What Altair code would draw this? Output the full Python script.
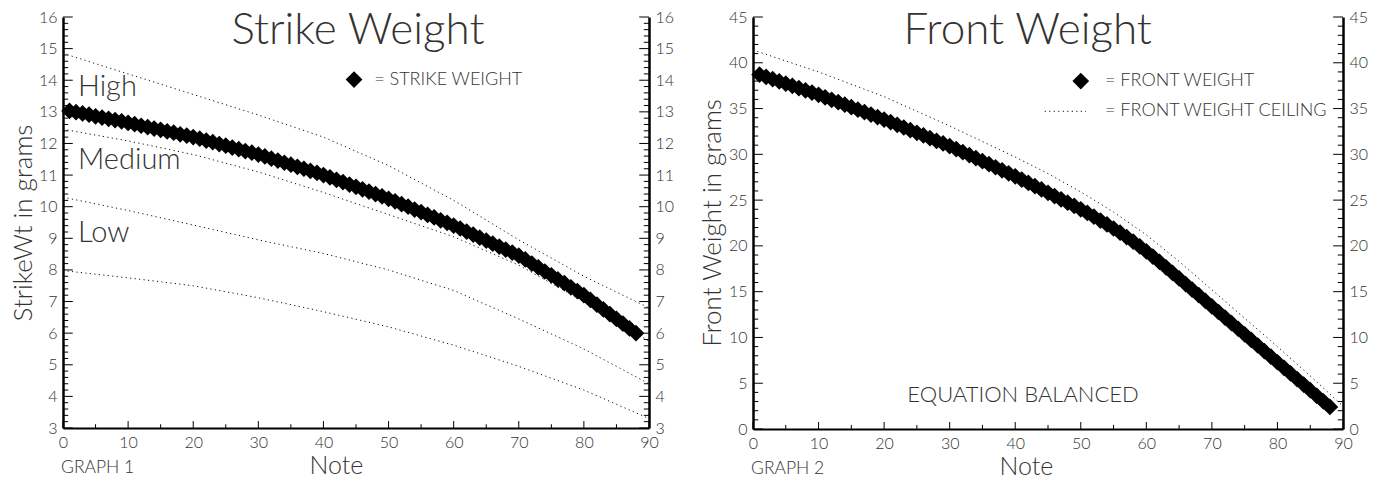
import altair as alt
import pandas as pd

FONT = "Lato"
INK = "#333333"

# ---------------- data ----------------
notes = list(range(1, 89))

strike_weight = [
    13.03, 12.99, 12.95, 12.91, 12.86, 12.82, 12.78, 12.74, 12.70, 12.65,
    12.61, 12.56, 12.52, 12.47, 12.43, 12.38, 12.34, 12.29, 12.25, 12.20,
    12.15, 12.09, 12.04, 11.98, 11.93, 11.87, 11.82, 11.76, 11.71, 11.65,
    11.59, 11.52, 11.46, 11.39, 11.33, 11.26, 11.20, 11.13, 11.07, 11.00,
    10.93, 10.85, 10.78, 10.70, 10.63, 10.55, 10.48, 10.40, 10.33, 10.25,
    10.17, 10.08, 10.00, 9.91, 9.83, 9.74, 9.66, 9.57, 9.49, 9.40,
    9.31, 9.21, 9.12, 9.02, 8.93, 8.83, 8.74, 8.64, 8.55, 8.45,
    8.33, 8.20, 8.08, 7.95, 7.83, 7.70, 7.58, 7.45, 7.33, 7.20,
    7.05, 6.90, 6.75, 6.60, 6.45, 6.30, 6.15, 6.00,
]

front_weight = [
    38.70, 38.46, 38.21, 37.97, 37.72, 37.48, 37.23, 36.99, 36.74, 36.50,
    36.23, 35.96, 35.69, 35.42, 35.15, 34.88, 34.61, 34.34, 34.07, 33.80,
    33.51, 33.22, 32.93, 32.64, 32.35, 32.06, 31.77, 31.48, 31.19, 30.90,
    30.57, 30.24, 29.91, 29.58, 29.25, 28.92, 28.59, 28.26, 27.93, 27.60,
    27.24, 26.88, 26.52, 26.16, 25.80, 25.44, 25.08, 24.72, 24.36, 24.00,
    23.60, 23.19, 22.77, 22.34, 21.90, 21.44, 20.96, 20.46, 19.94, 19.40,
    18.84, 18.26, 17.66, 17.05, 16.44, 15.83, 15.22, 14.61, 14.00, 13.39,
    12.78, 12.17, 11.56, 10.95, 10.34, 9.73, 9.12, 8.51, 7.90, 7.29,
    6.68, 6.07, 5.46, 4.85, 4.24, 3.63, 3.02, 2.41,
]

guide_notes = [0, 10, 20, 30, 40, 50, 60, 70, 80, 90]
strike_high_top = [14.85, 14.20, 13.55, 12.90, 12.20, 11.30, 10.20, 8.95, 7.80, 6.80]
strike_medium_top = [12.45, 12.08, 11.65, 11.10, 10.45, 9.75, 9.05, 8.15, 7.00, 5.75]
strike_low_top = [10.30, 9.88, 9.42, 8.95, 8.52, 8.00, 7.35, 6.45, 5.50, 4.40]
strike_low_bottom = [7.98, 7.75, 7.50, 7.12, 6.68, 6.20, 5.62, 4.95, 4.20, 3.30]

ceiling_notes = [0, 10, 20, 30, 40, 45, 50, 55, 60, 65, 70, 75, 80, 85, 90]
front_ceiling = [41.4, 39.0, 36.3, 33.1, 29.7, 27.9, 25.9, 23.7, 21.2, 18.3, 15.2, 12.1, 9.0, 5.8, 2.5]

x_major = [0, 10, 20, 30, 40, 50, 60, 70, 80, 90]
x_minor = [5, 15, 25, 35, 45, 55, 65, 75, 85]
strike_major = [3, 4, 5, 6, 7, 8, 9, 10, 11, 12, 13, 14, 15, 16]
strike_minor = [round(3 + i * 0.2, 1) for i in range(1, 65) if i % 5 != 0]
front_major = [0, 5, 10, 15, 20, 25, 30, 35, 40, 45]
front_minor = [i for i in range(1, 45) if i % 5 != 0]

band_labels = ["High", "Medium", "Low"]
band_label_x = [2.3, 2.3, 2.3]
band_label_y = [13.5, 11.18, 8.89]

# ---------------- helpers ----------------
xscale = alt.Scale(domain=[0, 90], nice=False, zero=False)

xaxis = alt.Axis(
    values=x_major, ticks=False, grid=False, domainColor="black", domainWidth=2,
    labelFont=FONT, labelFontSize=16, labelFontWeight=300, labelColor=INK,
    labelPadding=6, labelFlush=False, labelOverlap=False,
    title="Note", titleFont=FONT, titleFontSize=25, titleFontWeight=300,
    titleColor=INK, titleX=273, titleY=45, titleBaseline="alphabetic",
    titleAlign="center",
)


def yaxis(values, title, orient, title_x):
    kw = dict(
        values=values, ticks=False, grid=False, domainColor="black", domainWidth=2.5,
        labelFont=FONT, labelFontSize=16, labelFontWeight=300, labelColor=INK,
        labelPadding=6, labelFlush=False, labelOverlap=False, orient=orient,
    )
    if title:
        kw.update(title=title, titleFont=FONT, titleFontSize=26, titleFontWeight=300,
                  titleColor=INK, titleX=title_x, titleY=205.5, titleAngle=270,
                  titleAlign="center", titleBaseline="middle")
    else:
        kw.update(title="")
    return alt.Axis(**kw)


def hticks(values, x0, x1, yscale):
    df = pd.DataFrame({"v": values})
    return alt.Chart(df).mark_rule(color="black", strokeWidth=1).encode(
        y=alt.Y("v:Q", scale=yscale, axis=None),
        x=alt.XDatum(x0, scale=xscale, axis=xaxis),
        x2=alt.X2Datum(x1),
    )


def vticks(values, y0, y1, yscale):
    df = pd.DataFrame({"n": values})
    return alt.Chart(df).mark_rule(color="black", strokeWidth=1).encode(
        x=alt.X("n:Q", scale=xscale, axis=xaxis),
        y=alt.YDatum(y0, scale=yscale, axis=None),
        y2=alt.Y2Datum(y1),
    )


def texts(df, yscale, size, weight, align="left", baseline="alphabetic"):
    return alt.Chart(df).mark_text(
        font=FONT, fontSize=size, fontWeight=weight, align=align,
        baseline=baseline, color=INK,
    ).encode(
        x=alt.X("x:Q", scale=xscale, axis=xaxis),
        y=alt.Y("y:Q", scale=yscale, axis=None),
        text="t:N",
    )


dot_style = dict(color="#111111", strokeWidth=1, strokeDash=[1.2, 3.3])

# ---------------- left panel ----------------
ys1 = alt.Scale(domain=[3, 16], nice=False, zero=False)

guides1 = pd.DataFrame({
    "n": guide_notes * 4,
    "v": strike_high_top + strike_medium_top + strike_low_top + strike_low_bottom,
    "g": ["a"] * 10 + ["b"] * 10 + ["c"] * 10 + ["d"] * 10,
})
main1 = pd.DataFrame({"n": notes, "v": strike_weight})

g1 = alt.Chart(guides1).mark_line(**dot_style).encode(
    x=alt.X("n:Q", scale=xscale, axis=xaxis),
    y=alt.Y("v:Q", scale=ys1, axis=yaxis(strike_major, "StrikeWt in grams", "left", -40)),
    detail="g:N",
)
d1 = alt.Chart(main1).mark_point(shape="diamond", filled=True, size=280, color="black", opacity=1).encode(
    x=alt.X("n:Q", scale=xscale, axis=xaxis),
    y=alt.Y("v:Q", scale=ys1, axis=yaxis(strike_major, None, "right", 0)),
)
leg1_pt = alt.Chart(pd.DataFrame({"x": [44.7], "y": [14.02]})).mark_point(
    shape="diamond", filled=True, size=280, color="black", opacity=1).encode(
    x=alt.X("x:Q", scale=xscale, axis=xaxis), y=alt.Y("y:Q", scale=ys1, axis=None))

left = alt.layer(
    hticks(strike_major, 0, 1.5, ys1), hticks(strike_minor, 0, 0.8, ys1),
    hticks(strike_major, 90, 88.5, ys1), hticks(strike_minor, 90, 89.2, ys1),
    vticks(x_major, 3, 3.22, ys1), vticks(x_minor, 3, 3.12, ys1),
    g1, d1, leg1_pt,
    texts(pd.DataFrame({"x": [45.3], "y": [15.15], "t": ["Strike Weight"]}), ys1, 44, 300, "center"),
    texts(pd.DataFrame({"x": band_label_x, "y": band_label_y, "t": band_labels}), ys1, 29, 300),
    texts(pd.DataFrame({"x": [47.8], "y": [14.02], "t": ["= STRIKE WEIGHT"]}), ys1, 18, 300, "left", "middle"),
    texts(pd.DataFrame({"x": [-0.3], "y": [1.58], "t": ["GRAPH 1"]}), ys1, 17.5, 300),
).resolve_axis(y="independent").properties(width=586, height=411)

# ---------------- right panel ----------------
ys2 = alt.Scale(domain=[0, 45], nice=False, zero=False)

ceil2 = pd.DataFrame({"n": ceiling_notes, "v": front_ceiling})
main2 = pd.DataFrame({"n": notes, "v": front_weight})

g2 = alt.Chart(ceil2).mark_line(**dot_style).encode(
    x=alt.X("n:Q", scale=xscale, axis=xaxis),
    y=alt.Y("v:Q", scale=ys2, axis=yaxis(front_major, "Front Weight in grams", "left", -41)),
)
d2 = alt.Chart(main2).mark_point(shape="diamond", filled=True, size=280, color="black", opacity=1).encode(
    x=alt.X("n:Q", scale=xscale, axis=xaxis),
    y=alt.Y("v:Q", scale=ys2, axis=yaxis(front_major, None, "right", 0)),
)
leg2_pt = alt.Chart(pd.DataFrame({"x": [50.0], "y": [38.0]})).mark_point(
    shape="diamond", filled=True, size=280, color="black", opacity=1).encode(
    x=alt.X("x:Q", scale=xscale, axis=xaxis), y=alt.Y("y:Q", scale=ys2, axis=None))
leg2_line = alt.Chart(pd.DataFrame({"x": [44.5, 50.8], "y": [34.7, 34.7]})).mark_line(**dot_style).encode(
    x=alt.X("x:Q", scale=xscale, axis=xaxis), y=alt.Y("y:Q", scale=ys2, axis=None))

right = alt.layer(
    hticks(front_major, 0, 1.5, ys2), hticks(front_minor, 0, 0.8, ys2),
    hticks(front_major, 90, 88.5, ys2), hticks(front_minor, 90, 89.2, ys2),
    vticks(x_major, 0, 0.76, ys2), vticks(x_minor, 0, 0.44, ys2),
    g2, d2, leg2_pt, leg2_line,
    texts(pd.DataFrame({"x": [41.9], "y": [42.05], "t": ["Front Weight"]}), ys2, 44, 300, "center"),
    texts(pd.DataFrame({"x": [53.7, 53.7], "y": [38.0, 34.75],
                        "t": ["= FRONT WEIGHT", "= FRONT WEIGHT CEILING"]}), ys2, 18, 300, "left", "middle"),
    texts(pd.DataFrame({"x": [41.2], "y": [3.72], "t": ["EQUATION BALANCED"]}), ys2, 22, 300, "center", "middle"),
    texts(pd.DataFrame({"x": [-0.3], "y": [-4.9], "t": ["GRAPH 2"]}), ys2, 17.5, 300),
).resolve_axis(y="independent").properties(width=590, height=412)

chart = alt.hconcat(left, right, spacing=104, bounds="flush").properties(
    padding={"left": 2, "top": 0, "right": 5, "bottom": 5},
    background="white",
).configure_view(stroke="transparent", strokeWidth=0)

chart.save("out.html", embed_options={"renderer": "svg", "actions": False})
